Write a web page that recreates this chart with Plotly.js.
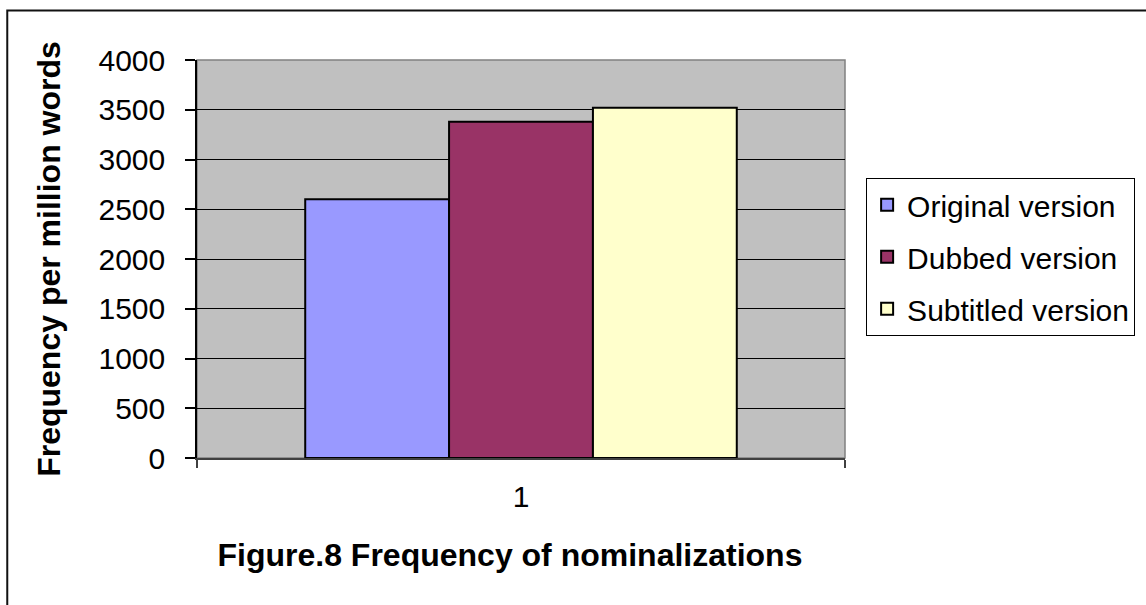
<!DOCTYPE html>
<html>
<head>
<meta charset="utf-8">
<script src="https://cdn.plot.ly/plotly-3.0.1.min.js"></script>
<style>
  html, body { margin: 0; padding: 0; background: #ffffff; overflow: hidden; }
  #chart { width: 1146px; height: 605px; }
</style>
</head>
<body>
<div id="chart"></div>
<script>
// Nominalization frequency per million words, by film version
const categories = ['1'];
const seriesNames = ['Original version', 'Dubbed version', 'Subtitled version'];
const originalValues = [2600];
const dubbedValues = [3380];
const subtitledValues = [3520];
const yTickValues = [0, 500, 1000, 1500, 2000, 2500, 3000, 3500, 4000];
const yTickLabels = ['0', '500', '1000', '1500', '2000', '2500', '3000', '3500', '4000'];

const seriesValues = [originalValues, dubbedValues, subtitledValues];
const seriesColors = ['#9999FF', '#993366', '#FFFFCC'];

const traces = seriesNames.map((name, i) => ({
  type: 'bar',
  name: name,
  x: categories,
  y: seriesValues[i],
  legendgroup: 'g' + i,
  marker: { color: seriesColors[i], line: { color: '#000000', width: 2 } },
  hoverinfo: 'name+y'
}));

const font = 'Liberation Sans, Arial, sans-serif';

const layout = {
  width: 1146,
  height: 605,
  margin: { l: 197, r: 300, t: 60, b: 147, pad: 0 },
  paper_bgcolor: '#ffffff',
  plot_bgcolor: '#C0C0C0',
  barmode: 'group',
  bargap: 0.334,
  bargroupgap: 0,
  showlegend: true,
  font: { family: font, color: '#000000', size: 30 },
  title: {
    text: '<b>Figure.8 Frequency of nominalizations</b>',
    font: { family: font, size: 32, color: '#000000' },
    xref: 'container', yref: 'container',
    x: 0.445, xanchor: 'center',
    y: 0.083, yanchor: 'middle'
  },
  xaxis: {
    type: 'category',
    range: [-0.5, 0.5],
    showgrid: false,
    zeroline: false,
    showline: true,
    linecolor: '#404040',
    linewidth: 1.5,
    ticks: 'outside',
    tickson: 'boundaries',
    ticklen: 8,
    tickcolor: '#404040',
    tickwidth: 1.5,
    ticklabelstandoff: 11,
    tickfont: { family: font, size: 30, color: '#000000' },
    fixedrange: true
  },
  yaxis: {
    range: [0, 4000],
    tickvals: yTickValues,
    ticktext: yTickLabels,
    showgrid: true,
    gridcolor: '#000000',
    gridwidth: 1,
    zeroline: false,
    showline: true,
    linecolor: '#000000',
    linewidth: 1.5,
    ticks: 'outside',
    ticklen: 10,
    tickcolor: '#000000',
    tickwidth: 1.5,
    ticklabelstandoff: 14,
    tickfont: { family: font, size: 30, color: '#000000' },
    title: {
      text: '<b>Frequency per million words</b>',
      font: { family: font, size: 32, color: '#000000' },
      standoff: 28
    },
    fixedrange: true
  },
  legend: {
    x: 1.031, xanchor: 'left',
    y: 0.704, yanchor: 'top',
    bgcolor: '#ffffff',
    bordercolor: '#000000',
    borderwidth: 1,
    font: { family: font, size: 30, color: '#000000' },
    traceorder: 'grouped',
    tracegroupgap: 10,
    itemclick: false,
    itemdoubleclick: false
  },
  shapes: [
    // plot area frame
    {
      type: 'rect', xref: 'paper', yref: 'paper',
      x0: 0, x1: 1, y0: 0, y1: 1,
      line: { color: '#808080', width: 1.5 },
      layer: 'below'
    },
    // outer chart frame
    {
      type: 'rect', xref: 'paper', yref: 'paper',
      x0: -0.2928, x1: 1.5, y0: -0.45, y1: 1.1245,
      line: { color: '#111111', width: 2 },
      layer: 'below'
    }
  ]
};

Plotly.newPlot('chart', traces, layout, { displayModeBar: false, staticPlot: false });
</script>
</body>
</html>
